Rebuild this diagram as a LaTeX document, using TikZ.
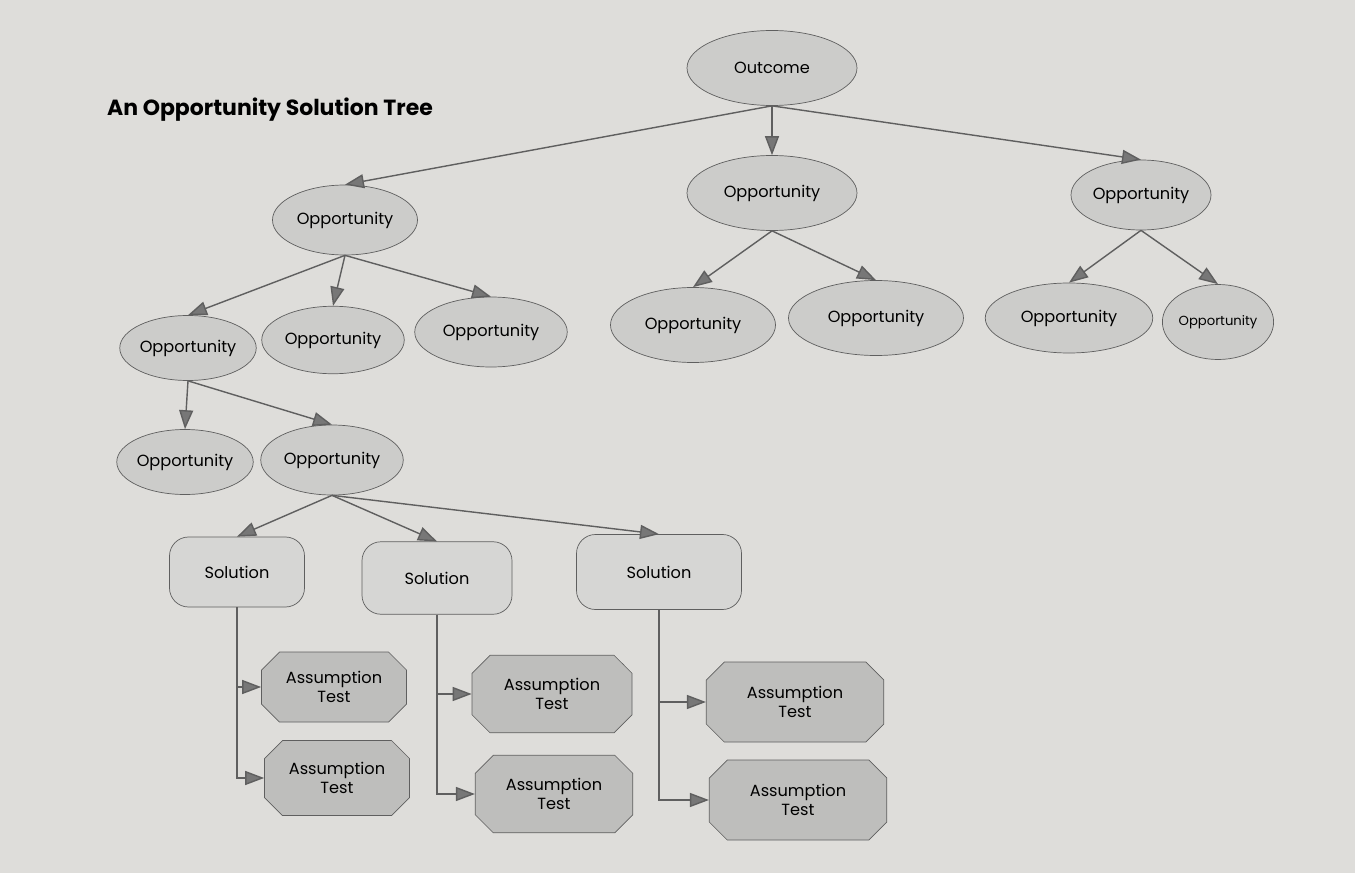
\documentclass[tikz,border=0pt]{standalone}
\usepackage{fontspec}
\setmainfont{Poppins}
\usetikzlibrary{arrows.meta}
\usetikzlibrary{shapes.geometric,shapes.misc}
\usepackage{xcolor}
\definecolor{paper}{RGB}{222,221,218}
\definecolor{oppfill}{RGB}{204,204,202}
\definecolor{solfill}{RGB}{214,214,212}
\definecolor{testfill}{RGB}{190,190,188}
\definecolor{linec}{RGB}{95,95,95}
\tikzset{
 opp/.style={ellipse, draw=linec, fill=oppfill, inner sep=0pt, font=\fontsize{9.2}{10}\selectfont},
 sol/.style={rectangle, rounded corners=3.8mm, draw=linec, fill=solfill, inner sep=0pt, font=\fontsize{9.2}{10}\selectfont},
 test/.style={chamfered rectangle, chamfered rectangle xsep=1.8mm, chamfered rectangle ysep=1.8mm, draw=linec, fill=testfill, inner sep=0pt, align=center, font=\fontsize{9.2}{11}\selectfont},
 link/.style={draw=linec, thick, ->, >={Triangle[length=3.8mm, width=2.8mm, fill=linec!85]}}
}
\begin{document}
\begin{tikzpicture}[x=0.2mm, y=-0.2mm]
\fill[paper] (0,0) rectangle (1355,873);
\useasboundingbox (0,0) rectangle (1355,873);
\node[font=\fontsize{12.5}{14}\selectfont\bfseries] (title) at (270,110) {An Opportunity Solution Tree};
\node[opp, minimum width=34mm, minimum height=15mm] (out) at (772,68) {Outcome};
\node[opp, minimum width=29mm, minimum height=14mm] (o1) at (345,220) {Opportunity};
\node[opp, minimum width=34mm, minimum height=15mm] (o2) at (772,193) {Opportunity};
\node[opp, minimum width=28mm, minimum height=14mm] (o3) at (1141,195) {Opportunity};
\node[opp, minimum width=27mm, minimum height=13mm] (o11) at (188,348) {Opportunity};
\node[opp, minimum width=28.5mm, minimum height=13.5mm] (o12) at (333,340) {Opportunity};
\node[opp, minimum width=30.5mm, minimum height=14mm] (o13) at (491,332) {Opportunity};
\node[opp, minimum width=33mm, minimum height=15mm] (o21) at (693,325) {Opportunity};
\node[opp, minimum width=35mm, minimum height=15mm] (o22) at (876,318) {Opportunity};
\node[opp, minimum width=33.5mm, minimum height=14mm] (o31) at (1069,318) {Opportunity};
\node[opp, minimum width=21.5mm, minimum height=15mm, font=\fontsize{7.5}{9}\selectfont] (o32) at (1218,322) {Opportunity};
\node[opp, minimum width=26mm, minimum height=13mm] (o111) at (185,462) {Opportunity};
\node[opp, minimum width=28.5mm, minimum height=14mm] (o112) at (332,460) {Opportunity};
\node[sol, minimum width=27mm, minimum height=14mm] (s1) at (237,572) {Solution};
\node[sol, minimum width=30mm, minimum height=14.5mm] (s2) at (437,578) {Solution};
\node[sol, minimum width=33mm, minimum height=15mm] (s3) at (659,572) {Solution};
\node[test, minimum width=29mm, minimum height=14mm] (t11) at (334,687) {Assumption\\Test};
\node[test, minimum width=29mm, minimum height=15mm] (t12) at (337,778) {Assumption\\Test};
\node[test, minimum width=32mm, minimum height=15.5mm] (t21) at (552,694) {Assumption\\Test};
\node[test, minimum width=31.5mm, minimum height=15.5mm] (t22) at (554,794) {Assumption\\Test};
\node[test, minimum width=35.5mm, minimum height=16mm] (t31) at (795,702) {Assumption\\Test};
\node[test, minimum width=35.5mm, minimum height=16mm] (t32) at (798,800) {Assumption\\Test};
\foreach \a/\b in {out/o1, out/o2, out/o3, o1/o11, o1/o12, o1/o13, o2/o21, o2/o22, o3/o31, o3/o32,
 o11/o111, o11/o112, o112/s1, o112/s2, o112/s3} {
 \draw[link] (\a.south) -- (\b.north);
}
\foreach \a/\b in {s1/t11, s1/t12, s2/t21, s2/t22, s3/t31, s3/t32} {
 \draw[link] (\a.south) |- (\b.west);
}
\end{tikzpicture}
\end{document}
